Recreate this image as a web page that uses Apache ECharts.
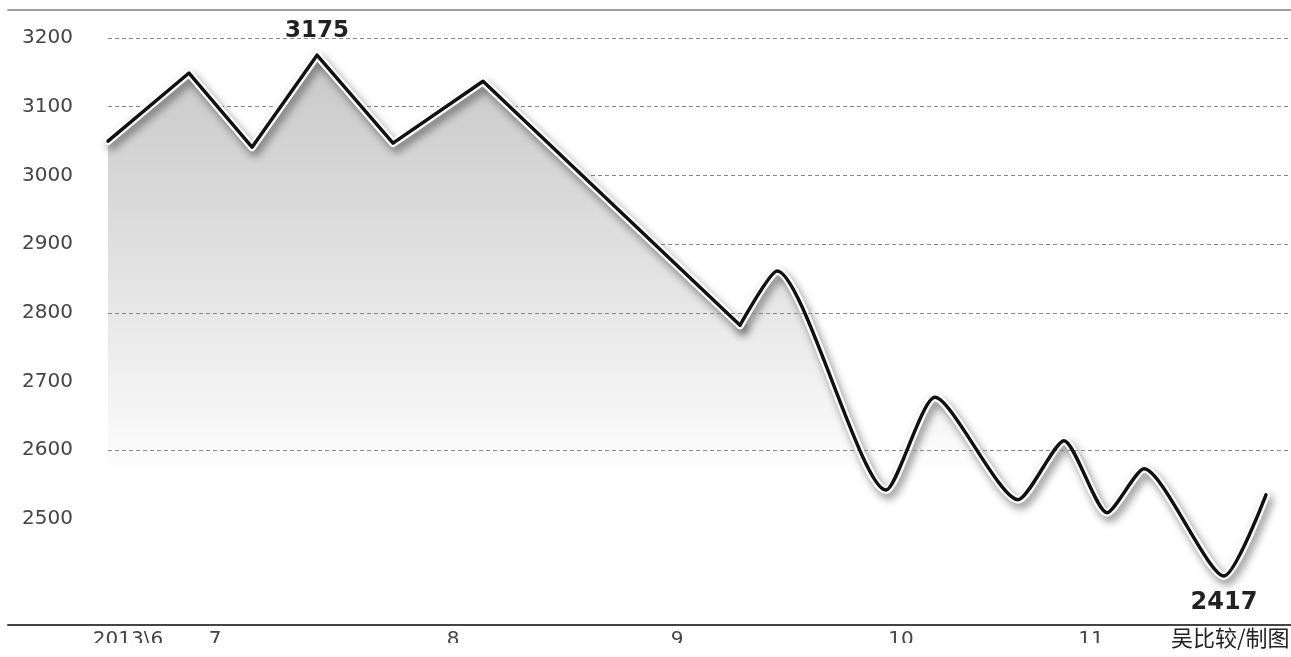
<!DOCTYPE html>
<html>
<head>
<meta charset="utf-8">
<script src="https://cdn.jsdelivr.net/npm/echarts@6/dist/echarts.min.js"></script>
<style>
html,body{margin:0;padding:0;background:#fff;}
#chart{width:1291px;height:657px;}
</style>
</head>
<body>
<div id="chart"></div>
<script>
// ---- data ----
const tradingDay = [10.0, 18.1, 24.4, 30.9, 38.5, 47.5, 73.2, 76.9, 87.8, 92.7, 101.0, 105.6, 109.9, 113.6, 121.6, 125.8];
const indexValue = [3050, 3149, 3041, 3175, 3047, 3137, 2782, 2861, 2542, 2677, 2528, 2614, 2509, 2573, 2417, 2535];
const splitIndex = 6; // sharp zig-zag before, rounded swings after
const monthLabels = ['2013\\6', '7', '8', '9', '10', '11'];
const monthLabelDay = [12.0, 20.7, 44.5, 66.9, 89.3, 108.3];
const yTickValues = [2500, 2600, 2700, 2800, 2900, 3000, 3100, 3200];
const gridUnderFill = [2900, 3000, 3100, 3200];
const gridOverFill = [2600, 2800];
const credit = '吴比较/制图';

const xMin = 0, xMax = 128.3;
const pts = tradingDay.map((d, i) => [d, indexValue[i]]);
const seg1 = pts.slice(0, splitIndex + 1);
const seg2 = pts.slice(splitIndex);

const chart = echarts.init(document.getElementById('chart'));

const areaGrad = new echarts.graphic.LinearGradient(0, 55, 0, 475, [
  { offset: 0, color: '#c8c8c8' },
  { offset: 0.55, color: '#e4e4e4' },
  { offset: 0.85, color: '#f5f5f5' },
  { offset: 1, color: '#ffffff' }
], true);

const haloStyle = {
  color: '#ffffff', width: 8, join: 'round', cap: 'round',
  shadowColor: 'rgba(0,0,0,0.45)', shadowBlur: 9, shadowOffsetX: 3, shadowOffsetY: 5
};
const blackStyle = { color: '#111', width: 3.5, join: 'round', cap: 'round' };
const gridLineStyle = { color: '#888', type: [4, 3], width: 1 };

const labelFont = { fontFamily: 'DejaVu Sans', fontWeight: 'bold', fontSize: 23, color: '#222' };
const gridLines = vals => vals.map(v => [{ coord: [tradingDay[0], v] }, { coord: [xMax, v] }]);

chart.setOption({
  backgroundColor: '#ffffff',
  animation: false,
  grid: { left: 8, right: 0, top: 10, bottom: 32 },
  xAxis: [{
    type: 'value', min: xMin, max: xMax, z: 10,
    axisLine: { show: true, onZero: false, lineStyle: { color: '#444', width: 2 } },
    axisTick: { show: false },
    splitLine: { show: false },
    axisLabel: {
      customValues: monthLabelDay,
      formatter: v => { const i = monthLabelDay.indexOf(v); return i >= 0 ? monthLabels[i] : ''; },
      color: '#444', fontFamily: 'DejaVu Sans', fontSize: 20, margin: 5,
      verticalAlign: 'top'
    }
  }, {
    type: 'value', min: xMin, max: xMax, position: 'top', z: 10,
    axisLine: { show: true, onZero: false, lineStyle: { color: '#a0a0a0', width: 2 } },
    axisTick: { show: false }, axisLabel: { show: false }, splitLine: { show: false }
  }],
  yAxis: {
    type: 'value', min: 2345.7, max: 3240.7,
    axisLine: { show: false }, axisTick: { show: false }, splitLine: { show: false },
    axisLabel: {
      inside: true, margin: 14, customValues: yTickValues,
      formatter: v => String(v),
      color: '#444', fontFamily: 'DejaVu Sans', fontSize: 20
    }
  },
  series: [
    {
      type: 'line', data: [], z: 1, silent: true,
      markLine: { z: 1, silent: true, symbol: 'none', label: { show: false }, lineStyle: gridLineStyle, data: gridLines(gridUnderFill) }
    },
    {
      type: 'line', data: seg1, z: 2, smooth: false, showSymbol: false,
      lineStyle: haloStyle, areaStyle: { color: areaGrad, opacity: 1, origin: 'start' }
    },
    {
      type: 'line', data: seg2, z: 2, smooth: 0.22, showSymbol: false,
      lineStyle: haloStyle, areaStyle: { color: areaGrad, opacity: 1, origin: 'start' }
    },
    {
      type: 'line', data: [], z: 3, silent: true,
      markLine: { z: 3, silent: true, symbol: 'none', label: { show: false }, lineStyle: gridLineStyle, data: gridLines(gridOverFill) }
    },
    {
      type: 'line', data: seg1, z: 4, smooth: false, showSymbol: false,
      lineStyle: blackStyle,
      markPoint: {
        symbol: 'circle', symbolSize: 1, itemStyle: { color: 'rgba(0,0,0,0)' },
        label: Object.assign({ show: true, position: 'top', distance: 12, formatter: p => String(p.value) }, labelFont),
        data: [{ type: 'max' }]
      }
    },
    {
      type: 'line', data: seg2, z: 4, smooth: 0.22, showSymbol: false,
      lineStyle: blackStyle,
      markPoint: {
        symbol: 'circle', symbolSize: 1, itemStyle: { color: 'rgba(0,0,0,0)' },
        label: Object.assign({ show: true, position: 'bottom', distance: 14, formatter: p => String(p.value) }, labelFont, { fontSize: 24 }),
        data: [{ type: 'min' }]
      }
    }
  ],
  graphic: [
    { type: 'rect', left: 0, top: 643, shape: { width: 1165, height: 14 }, style: { fill: '#ffffff' }, z: 100 },
    { type: 'text', left: 1171, top: 627, z: 101,
      style: { text: credit, fontFamily: 'Noto Sans CJK SC', fontSize: 22, fill: '#222' } }
  ]
});
</script>
</body>
</html>
